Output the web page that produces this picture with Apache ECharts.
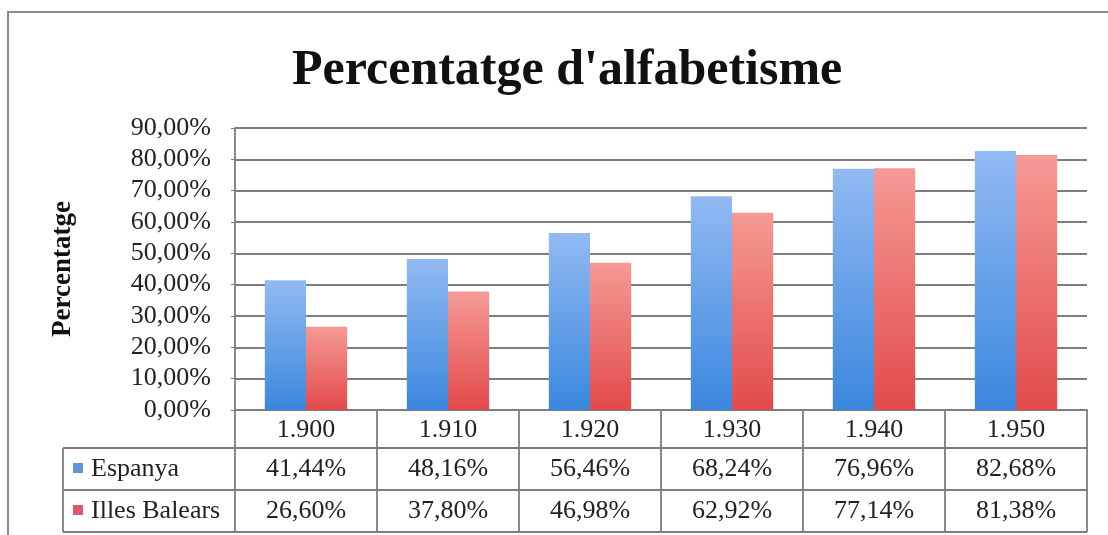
<!DOCTYPE html>
<html>
<head>
<meta charset="utf-8">
<script src="https://cdn.jsdelivr.net/npm/echarts@6/dist/echarts.min.js"></script>
<style>
* { box-sizing: border-box; }
html, body { margin: 0; padding: 0; background: #fff; }
#chart { width: 1108px; height: 535px; }
</style>
</head>
<body>
<div id="chart"></div>
<script>
// dades
const years = ['1.900', '1.910', '1.920', '1.930', '1.940', '1.950']
const espanya = [41.44, 48.16, 56.46, 68.24, 76.96, 82.68]
const balears = [26.60, 37.80, 46.98, 62.92, 77.14, 81.38]
const seriesNames = ['Espanya', 'Illes Balears']

const serif = '"Liberation Serif", "Times New Roman", serif'
const txt = '#222'
const lineCol = '#7d7d7d'
const fmt = v => v.toFixed(2).replace('.', ',') + '%'

const blueFill = new echarts.graphic.LinearGradient(0, 0, 0, 1, [
  { offset: 0, color: '#92baf2' },
  { offset: 1, color: '#3a87de' }
])
const redFill = new echarts.graphic.LinearGradient(0, 0, 0, 1, [
  { offset: 0, color: '#f59a95' },
  { offset: 1, color: '#e24a4b' }
])

const chart = echarts.init(document.getElementById('chart'))

const option = {
  backgroundColor: '#fff',
  animation: false,
  title: {
    text: "Percentatge d'alfabetisme",
    left: 287,
    top: 41,
    textStyle: { fontFamily: serif, fontSize: 50, fontWeight: 'bold', color: '#111' }
  },
  grid: { left: 235, right: 21, top: 128, bottom: 125 },
  xAxis: {
    type: 'category',
    data: years,
    axisLine: { show: true, lineStyle: { color: lineCol, width: 1.8 } },
    axisTick: { show: false },
    axisLabel: { show: false }
  },
  yAxis: {
    type: 'value',
    min: 0,
    max: 90,
    interval: 10,
    name: 'Percentatge',
    nameLocation: 'middle',
    nameGap: 158,
    nameRotate: 90,
    nameTextStyle: { fontFamily: serif, fontSize: 27, fontWeight: 'bold', color: '#111' },
    axisLine: { show: true, lineStyle: { color: lineCol, width: 1.8 } },
    axisTick: { show: true, length: 4, lineStyle: { color: lineCol } },
    axisLabel: {
      formatter: v => fmt(v),
      fontFamily: serif,
      fontSize: 26,
      color: txt,
      margin: 24
    },
    splitLine: { lineStyle: { color: lineCol, width: 1.8 } }
  },
  series: [
    {
      name: seriesNames[0],
      type: 'bar',
      data: espanya,
      barGap: '0%',
      barCategoryGap: '42%',
      itemStyle: { color: blueFill }
    },
    {
      name: seriesNames[1],
      type: 'bar',
      data: balears,
      barGap: '0%',
      barCategoryGap: '42%',
      itemStyle: { color: redFill }
    }
  ]
}

chart.setOption(option)

// taula de dades sota el gràfic
function drawTable() {
  const c0 = chart.convertToPixel({ xAxisIndex: 0 }, years[0])
  const c1 = chart.convertToPixel({ xAxisIndex: 0 }, years[1])
  const band = c1 - c0
  const xL = c0 - band / 2
  const xR = xL + band * years.length
  const y0 = chart.convertToPixel({ yAxisIndex: 0 }, 0)
  const rows = [y0, y0 + 38, y0 + 80, y0 + 122]
  const labelLeft = xL - 172
  const els = []
  const line = (x1, y1, x2, y2) => els.push({
    type: 'line',
    shape: { x1, y1, x2, y2 },
    style: { stroke: lineCol, lineWidth: 1.8 }
  })
  const text = (x, y, s, align) => els.push({
    type: 'text',
    x, y,
    style: { text: s, fontFamily: serif, fontSize: 26, fill: txt, align: align || 'center', verticalAlign: 'middle' }
  })

  // marc exterior
  els.push({
    type: 'polyline',
    shape: { points: [[8, 535], [8, 12], [1108, 12]] },
    style: { stroke: '#8a8a8a', lineWidth: 2, fill: null }
  })

  // línies horitzontals
  line(labelLeft, rows[1], xR, rows[1])
  line(labelLeft, rows[2], xR, rows[2])
  line(labelLeft, rows[3], xR, rows[3])
  // línies verticals
  for (let i = 0; i <= years.length; i++) {
    line(xL + band * i, rows[0], xL + band * i, rows[3])
  }
  line(labelLeft, rows[1], labelLeft, rows[3])

  const data = [espanya, balears]
  const fills = ['#6393d2', '#de5670']
  years.forEach((y, i) => {
    const cx = xL + band * (i + 0.5)
    text(cx, (rows[0] + rows[1]) / 2 + 1, y)
    text(cx, (rows[1] + rows[2]) / 2, fmt(data[0][i]))
    text(cx, (rows[2] + rows[3]) / 2, fmt(data[1][i]))
  })
  seriesNames.forEach((n, k) => {
    const cy = (rows[k + 1] + rows[k + 2]) / 2
    els.push({
      type: 'rect',
      shape: { x: labelLeft + 10, y: cy - 6, width: 10, height: 10 },
      style: { fill: fills[k] }
    })
    text(labelLeft + 28, cy, n, 'left')
  })

  chart.setOption({ graphic: els })
}

drawTable()
</script>
</body>
</html>
